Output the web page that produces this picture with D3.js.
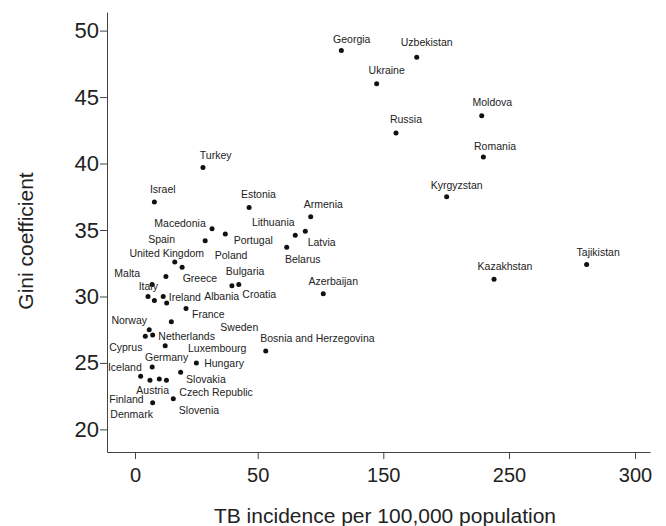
<!DOCTYPE html>
<html>
<head>
<meta charset="utf-8">
<script src="https://cdn.jsdelivr.net/npm/d3@7"></script>
<style>
  body { margin: 0; background: #fff; }
  text { font-family: "Liberation Sans", Arial, sans-serif; fill: #222; }
</style>
</head>
<body>
<svg id="chart"></svg>
<script>
// data
const countries = [
  "Georgia", "Uzbekistan", "Ukraine", "Moldova", "Russia", "Romania", "Turkey",
  "Kyrgyzstan", "Israel", "Estonia", "Armenia", "Macedonia", "Portugal", "Spain",
  "Lithuania", "Latvia", "Belarus", "United Kingdom", "Poland", "Tajikistan",
  "Kazakhstan", "Greece", "Croatia", "Bulgaria", "Azerbaijan", "Malta", "Italy",
  "", "Ireland", "Albania", "France", "Sweden", "Norway", "Cyprus", "Netherlands",
  "Luxembourg", "Bosnia and Herzegovina", "Germany", "Hungary", "Slovakia",
  "Iceland", "Finland", "Austria", "Czech Republic", "Slovenia", "Denmark"
];
const tbIncidence = [
  116.6, 176.6, 144.7, 228.3, 160.1, 229.6, 27.7,
  200.4, 7.9, 46.5, 92.2, 31.4, 36.8, 28.6,
  79.9, 87.9, 73.1, 16.2, 19.2, 280.8,
  238.1, 12.6, 39.5, 42.3, 102.2, 7.0, 5.3,
  7.9, 11.5, 12.9, 20.8, 14.8, 5.8, 4.2, 7.2,
  12.3, 56.4, 7.0, 25.0, 18.6,
  2.3, 6.1, 9.9, 12.8, 15.6, 7.2
];
const gini = [
  48.5, 48.0, 46.0, 43.6, 42.3, 40.5, 39.7,
  37.5, 37.1, 36.7, 36.0, 35.1, 34.7, 34.2,
  34.6, 34.9, 33.7, 32.6, 32.2, 32.4,
  31.3, 31.5, 30.8, 30.9, 30.2, 30.9, 30.0,
  29.7, 30.0, 29.5, 29.1, 28.1, 27.5, 27.0, 27.1,
  26.3, 25.9, 24.7, 25.0, 24.3,
  24.0, 23.7, 23.8, 23.7, 22.3, 22.0
];
const xTicks = [0, 50, 150, 250, 300];
const yTicks = [20, 25, 30, 35, 40, 45, 50];

// where each label sits relative to its dot (px, label centre)
const labelOffsets = {
  "Georgia": [10.4, -11.7], "Uzbekistan": [10, -14.4], "Ukraine": [10, -13.7],
  "Moldova": [10.6, -13], "Russia": [10, -14], "Romania": [11.7, -10.3],
  "Turkey": [12.7, -12.7], "Kyrgyzstan": [10, -11.3], "Israel": [8.4, -12.4],
  "Estonia": [9.3, -12.7], "Armenia": [12.6, -12], "Macedonia": [-32, -5.7],
  "Portugal": [28, 6.3], "Spain": [-43.6, -1], "Lithuania": [-22, -13],
  "Latvia": [16.4, 11], "Belarus": [16, 12.3], "United Kingdom": [-8, -8.6],
  "Poland": [49, -11.6], "Tajikistan": [11.6, -12.7], "Kazakhstan": [11, -13],
  "Greece": [34, 1.6], "Croatia": [27.3, 8.3], "Bulgaria": [6.3, -13],
  "Azerbaijan": [10, -12], "Malta": [-25, -11], "Italy": [0.3, -10.3],
  "Ireland": [21.7, 0.4], "Albania": [55, -6.4], "France": [22.3, 5.6],
  "Sweden": [68, 5.7], "Norway": [-20, -9.3], "Cyprus": [-19.5, 11.3],
  "Netherlands": [34, 1.7], "Luxembourg": [52, 3],
  "Bosnia and Herzegovina": [51.7, -12.4], "Germany": [14.4, -9.4],
  "Hungary": [27.7, 0], "Slovakia": [25.3, 6.7], "Iceland": [-15.8, -9.3],
  "Finland": [-23.5, 18.7], "Austria": [-6.6, 11], "Czech Republic": [49.7, 12],
  "Slovenia": [25.7, 11], "Denmark": [-21, 12]
};

const width = 666;
const height = 526;

const svg = d3.select("#chart")
  .attr("width", width)
  .attr("height", height);

// x ticks are evenly spaced even though the labels are not
const x = d3.scaleLinear()
  .domain([-11.4, 0, 50, 150, 250, 300, 306])
  .range([107, 135, 257.7, 383.3, 509, 635, 650]);

const y = d3.scaleLinear()
  .domain([18.3, 51.4])
  .range([452, 12]);

const points = countries.map((name, i) => ({ name, tb: tbIncidence[i], gini: gini[i] }));

// axes
const xAxis = svg.append("g")
  .attr("transform", "translate(0,452)")
  .call(d3.axisBottom(x).tickValues(xTicks).tickSize(7).tickSizeOuter(0).tickPadding(9));
xAxis.selectAll("text").attr("font-size", 20);

const yAxis = svg.append("g")
  .attr("transform", "translate(107,0)")
  .call(d3.axisLeft(y).tickValues(yTicks).tickSize(7).tickSizeOuter(0).tickPadding(1));
yAxis.selectAll("text").attr("font-size", 22);

svg.selectAll(".domain, .tick line").attr("stroke", "#444");
svg.selectAll(".tick text").attr("fill", "#222").style("font-family", '"Liberation Sans", Arial, sans-serif');

// axis titles
svg.append("text")
  .attr("x", 385)
  .attr("y", 523)
  .attr("text-anchor", "middle")
  .attr("font-size", 21)
  .text("TB incidence per 100,000 population");

svg.append("text")
  .attr("transform", "translate(33,241) rotate(-90)")
  .attr("text-anchor", "middle")
  .attr("font-size", 21)
  .text("Gini coefficient");

// dots
svg.append("g")
  .selectAll("circle")
  .data(points)
  .join("circle")
  .attr("cx", d => x(d.tb))
  .attr("cy", d => y(d.gini))
  .attr("r", 2.5)
  .attr("fill", "#111");

// country labels
svg.append("g")
  .selectAll("text")
  .data(points.filter(d => d.name))
  .join("text")
  .attr("x", d => x(d.tb) + labelOffsets[d.name][0])
  .attr("y", d => y(d.gini) + labelOffsets[d.name][1])
  .attr("dy", "0.35em")
  .attr("text-anchor", "middle")
  .attr("font-size", 10.5)
  .attr("fill", "#333")
  .text(d => d.name);
</script>
</body>
</html>
